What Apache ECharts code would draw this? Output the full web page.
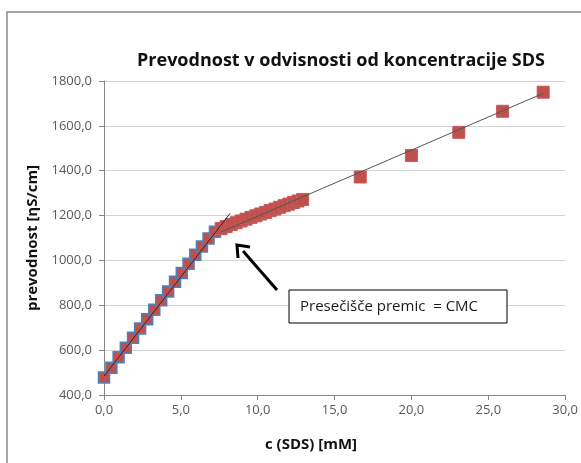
<!DOCTYPE html>
<html>
<head>
<meta charset="utf-8">
<script src="https://cdn.jsdelivr.net/npm/echarts@6/dist/echarts.min.js"></script>
<style>
  html, body { margin: 0; padding: 0; background: #fff; }
  #chart { width: 581px; height: 463px; }
</style>
</head>
<body>
<div id="chart"></div>
<script>
// Conductivity of SDS solutions below the CMC (premicellar region)
const concBelow = [0.00, 0.48, 0.95, 1.42, 1.89, 2.35, 2.81, 3.27, 3.72, 4.17, 4.62, 5.06, 5.50, 5.94, 6.37, 6.80, 7.22];
const condBelow = [478, 522, 568, 611, 655, 697, 738, 780, 822, 862, 905, 944, 985, 1025, 1062, 1098, 1128];

// Conductivity above the CMC (micellar region)
const concAbove = [7.62, 7.95, 8.28, 8.60, 8.92, 9.24, 9.56, 9.88, 10.19, 10.50, 10.81, 11.12, 11.42, 11.72, 12.02, 12.32, 12.62, 12.92, 16.67, 20.00, 23.08, 25.93, 28.57];
const condAbove = [1142, 1151, 1160, 1168, 1176, 1184, 1192, 1199, 1207, 1214, 1222, 1229, 1237, 1244, 1251, 1258, 1265, 1272, 1372, 1468, 1571, 1665, 1750];

// Linear trend lines: [intercept, slope] and the concentration span each covers
const fitBelow = [484, 88.5];
const fitBelowSpan = [0, 8.2];
const fitAbove = [902, 29.5];
const fitAboveSpan = [7.6, 28.57];

// Axis ticks
const xTicks = [0, 5, 10, 15, 20, 25, 30];
const yTicks = [400, 600, 800, 1000, 1200, 1400, 1600, 1800];

const FONT = '"Open Sans", "Noto Sans", sans-serif';
const fmt = v => v.toFixed(1).replace('.', ',');
const pairs = (xs, ys) => xs.map((x, i) => [x, ys[i]]);
const fitLine = (fit, span) => span.map(x => [x, fit[0] + fit[1] * x]);

const chart = echarts.init(document.getElementById('chart'), null, { renderer: 'canvas' });

chart.setOption({
  animation: false,
  backgroundColor: '#ffffff',
  title: [
    {
      text: 'Prevodnost v odvisnosti od koncentracije SDS',
      left: 336, top: 47, textAlign: 'center',
      textStyle: { fontFamily: FONT, fontWeight: 'bold', fontSize: 18, color: '#111' }
    },
    {
      text: 'c (SDS) [mM]',
      left: 306, top: 432, textAlign: 'center',
      textStyle: { fontFamily: FONT, fontWeight: 'bold', fontSize: 15, color: '#111' }
    }
  ],
  grid: { left: 104, right: 15, top: 81, bottom: 68, containLabel: false },
  xAxis: {
    type: 'value',
    min: xTicks[0], max: xTicks[xTicks.length - 1], interval: xTicks[1] - xTicks[0],
    axisLine: { show: true, lineStyle: { color: '#868686', width: 1 } },
    axisTick: { show: true, length: 5, lineStyle: { color: '#868686' } },
    splitLine: { show: false },
    axisLabel: { formatter: fmt, color: '#595959', fontFamily: FONT, fontSize: 13, margin: 9 }
  },
  yAxis: {
    type: 'value',
    min: yTicks[0], max: yTicks[yTicks.length - 1], interval: yTicks[1] - yTicks[0],
    name: 'prevodnost [ηS/cm]',
    nameLocation: 'middle', nameGap: 64, nameRotate: 90,
    nameTextStyle: { fontFamily: FONT, fontWeight: 'bold', fontSize: 15, color: '#111' },
    axisLine: { show: true, lineStyle: { color: '#868686', width: 1 } },
    axisTick: { show: true, length: 5, lineStyle: { color: '#868686' } },
    splitLine: { show: true, lineStyle: { color: '#d4d4d4', width: 1 } },
    axisLabel: { formatter: fmt, color: '#595959', fontFamily: FONT, fontSize: 13, margin: 12 }
  },
  series: [
    {
      name: 'pod CMC',
      type: 'scatter',
      data: pairs(concBelow, condBelow),
      symbol: 'rect', symbolSize: 11,
      itemStyle: { color: '#C0504D', borderColor: '#4F81BD', borderWidth: 1.5, opacity: 1 },
      z: 2
    },
    {
      name: 'nad CMC',
      type: 'scatter',
      data: pairs(concAbove, condAbove),
      symbol: 'rect', symbolSize: 12,
      itemStyle: { color: '#C0504D', borderColor: '#C55a57', borderWidth: 1, opacity: 1 },
      z: 2
    },
    {
      name: 'premica 1',
      type: 'line',
      data: fitLine(fitBelow, fitBelowSpan),
      symbol: 'none',
      lineStyle: { color: '#2b2b2b', width: 1 },
      z: 3
    },
    {
      name: 'premica 2',
      type: 'line',
      data: fitLine(fitAbove, fitAboveSpan),
      symbol: 'none',
      lineStyle: { color: '#555555', width: 1 },
      z: 3
    }
  ],
  graphic: [
    // outer chart frame
    {
      type: 'rect', shape: { x: 7, y: 12, width: 620, height: 500 },
      style: { fill: 'none', stroke: '#8a8a8a', lineWidth: 1.5 }, z: 10
    },
    // arrow pointing at the intersection of the two lines
    {
      type: 'line', shape: { x1: 277, y1: 290, x2: 243, y2: 251 },
      style: { stroke: '#000', lineWidth: 3 }, z: 10
    },
    {
      type: 'polyline', shape: { points: [[238, 258], [237, 245], [250, 247]] },
      style: { stroke: '#000', lineWidth: 3, fill: 'none', lineJoin: 'miter' }, z: 10
    },
    // annotation box
    {
      type: 'rect', shape: { x: 289, y: 290, width: 218, height: 33 },
      style: { fill: '#fff', stroke: '#000', lineWidth: 1 }, z: 10
    },
    {
      type: 'text', x: 300, y: 307,
      style: {
        text: 'Presečišče premic  = CMC',
        font: '15px ' + FONT, fill: '#1a1a1a', textVerticalAlign: 'middle'
      }, z: 11
    }
  ]
});
</script>
</body>
</html>
